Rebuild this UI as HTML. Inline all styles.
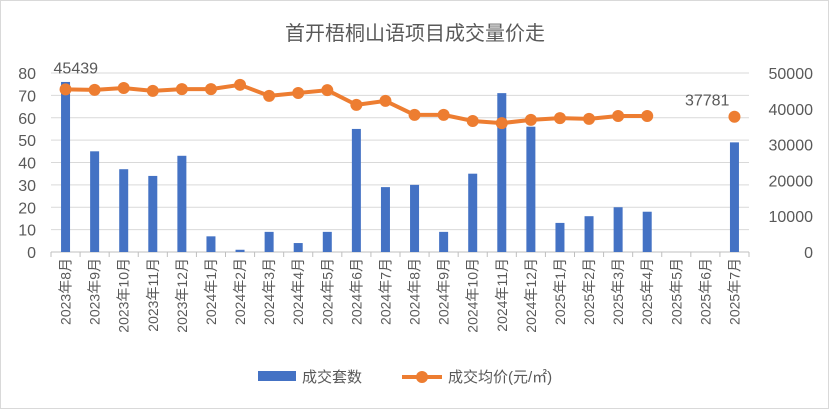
<!DOCTYPE html>
<html><head><meta charset="utf-8"><style>
body{margin:0;background:#fff;font-family:"Liberation Sans","Noto Sans CJK SC",sans-serif;}
svg text{font-family:"Liberation Sans","Noto Sans CJK SC",sans-serif;fill:#595959;}
</style></head><body>
<svg id="c" width="829" height="409" xmlns="http://www.w3.org/2000/svg">
<rect x="0.5" y="0.5" width="828" height="408" fill="#fff" stroke="#d9d9d9"/>
<text x="415" y="40" font-size="20" text-anchor="middle">首开梧桐山语项目成交量价走</text>
<g id="plot"></g>
<g>
<rect x="258" y="371" width="38" height="10" fill="#4472c4"/>
<text x="302" y="382" font-size="15">成交套数</text>
<line x1="402" y1="377" x2="442" y2="377" stroke="#ed7d31" stroke-width="4"/>
<circle cx="422" cy="377" r="6" fill="#ed7d31"/>
<text x="448" y="382" font-size="15">成交均价(元/㎡)</text>
</g>
</svg>
<script>
const categories=["2023年8月","2023年9月","2023年10月","2023年11月","2023年12月","2024年1月","2024年2月","2024年3月","2024年4月","2024年5月","2024年6月","2024年7月","2024年8月","2024年9月","2024年10月","2024年11月","2024年12月","2025年1月","2025年2月","2025年3月","2025年4月","2025年5月","2025年6月","2025年7月"];
const units=[76,45,37,34,43,7,1,9,4,9,55,29,30,9,35,71,56,13,16,20,18,0,0,49];
const prices=[45439,45300,45800,45000,45500,45500,46700,43600,44400,45200,41100,42200,38300,38300,36600,36000,36900,37400,37200,38000,38000,null,null,37781];
const leftTicks=[0,10,20,30,40,50,60,70,80];
const rightTicks=[0,10000,20000,30000,40000,50000];
const labelIdx=[0,23];
const NS="http://www.w3.org/2000/svg";
const g=document.getElementById('plot');
const X0=51,X1=749,Y0=252,Y1=73;
const bw=(X1-X0)/categories.length;
const xc=i=>X0+bw*(i+0.5);
const yL=v=>Y0-(v/80)*(Y0-Y1);
const yR=v=>Y0-(v/50000)*(Y0-Y1);
function mk(t,a){const e=document.createElementNS(NS,t);for(const k in a)e.setAttribute(k,a[k]);g.appendChild(e);return e;}
leftTicks.forEach(v=>{
 const l=mk('line',{x1:X0,x2:X1,y1:yL(v),y2:yL(v),stroke:v===0?'#bfbfbf':'#d9d9d9','stroke-width':1});
 
 
 const t=mk('text',{x:36,y:yL(v)+6,'font-size':16,'text-anchor':'end'});t.textContent=v;
 
 
});
rightTicks.forEach(v=>{
 const t=mk('text',{x:813,y:yR(v)+6,'font-size':16,'text-anchor':'end'});t.textContent=v;
 
 
});
for(let i=0;i<=categories.length;i++){
 const l=mk('line',{x1:X0+bw*i,x2:X0+bw*i,y1:Y0,y2:Y0+5,stroke:'#bfbfbf'});
 
 
}
categories.forEach((c,i)=>{
 const t=mk('text',{x:0,y:0,'font-size':14,'text-anchor':'end',transform:`translate(${xc(i)+5},${Y0+6}) rotate(-90)`});t.textContent=c;
 
 
});
units.forEach((v,i)=>{
 if(!v)return;
 const r=mk('rect',{x:xc(i)-4.5,y:yL(v),width:9,height:Y0-yL(v),fill:'#4472c4'});
 
 
});
let seg=[];const segs=[];
prices.forEach((v,i)=>{if(v==null){if(seg.length)segs.push(seg);seg=[];}else seg.push([xc(i),yR(v)]);});
if(seg.length)segs.push(seg);
segs.forEach(s=>{if(s.length<2)return;
 const p=mk('polyline',{points:s.map(q=>q.join(',')).join(' '),fill:'none',stroke:'#ed7d31','stroke-width':4,'stroke-linejoin':'round'});
 
 
});
prices.forEach((v,i)=>{
 if(v==null)return;
 const c=mk('circle',{cx:xc(i),cy:yR(v),r:6,fill:'#ed7d31'});
 
 
});
labelIdx.forEach(i=>{
 const t=mk('text',{x:xc(i)+(i===0?-12:-5),y:yR(prices[i])-(i===0?16:11),'font-size':16,'text-anchor':i===0?'start':'end'});
 t.textContent=prices[i];
 
 
});
</script>
</body></html>
